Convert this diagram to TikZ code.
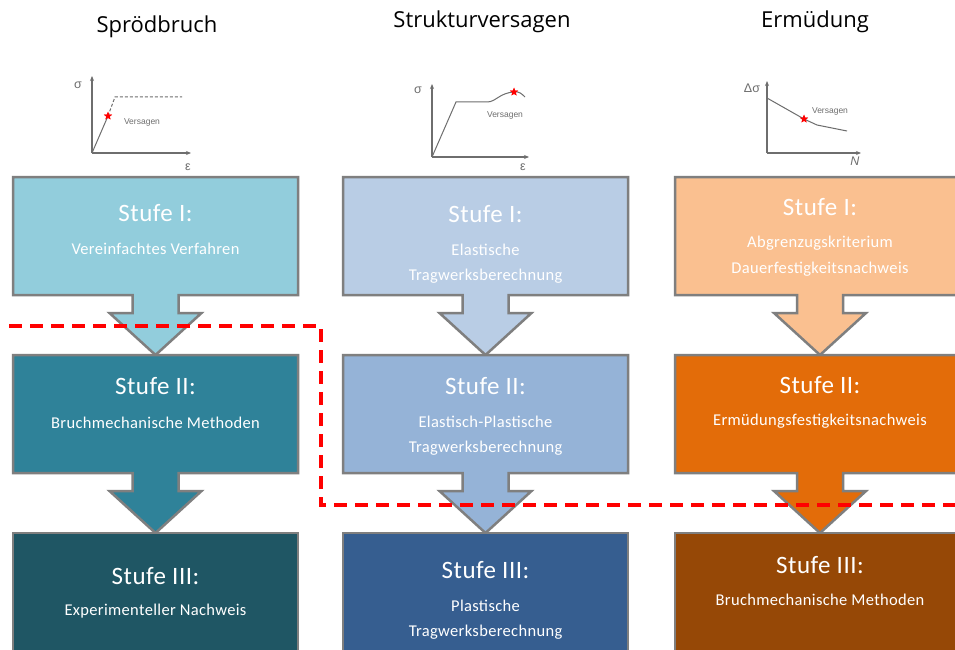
\documentclass[tikz,border=0pt]{standalone}
\usepackage{fontspec}
\setmainfont{Carlito}
\newfontfamily\titlefont{Open Sans}
\newfontfamily\graphfont{Liberation Sans}
\usetikzlibrary{calc,shapes.geometric,arrows.meta}
\definecolor{bordergrey}{HTML}{7F7F7F}
\definecolor{axisgrey}{HTML}{6E6E6E}
\definecolor{cAa}{HTML}{92CDDC}
\definecolor{cAb}{HTML}{2F8299}
\definecolor{cAc}{HTML}{1F5664}
\definecolor{cBa}{HTML}{B9CDE5}
\definecolor{cBb}{HTML}{95B3D7}
\definecolor{cBc}{HTML}{365E90}
\definecolor{cCa}{HTML}{FAC090}
\definecolor{cCb}{HTML}{E36C09}
\definecolor{cCc}{HTML}{964806}
\definecolor{dashred}{HTML}{FF0000}
\tikzset{
  holder/.style={draw=none,fill=none,inner sep=0,outer sep=0,minimum height=118pt,minimum width=285pt},
  holderwide/.style={holder,minimum width=290pt},
  stagebox/.style={draw=bordergrey,line width=2.5pt,line join=miter},
  coltitle/.style={font=\titlefont\fontsize{22}{25}\selectfont,text=black,inner sep=0},
  stufe/.style={font=\fontsize{25}{28}\selectfont\addfontfeatures{LetterSpace=2}\selectfont,text=white,inner sep=0},
  subtxt/.style={font=\fontsize{16.5}{19}\selectfont\addfontfeatures{LetterSpace=2}\selectfont,text=white,inner sep=0},
  axis/.style={draw=axisgrey,line width=1.1pt,-{Stealth[length=5pt,width=4pt]}},
  curve/.style={draw=axisgrey,line width=1pt},
  glab/.style={font=\graphfont\fontsize{12.5}{13}\selectfont,text=axisgrey,inner sep=0},
  vlab/.style={font=\graphfont\fontsize{8.5}{9}\selectfont,text=axisgrey,inner sep=0},
  failstar/.style={star,star points=5,star point ratio=2.3,fill=red,draw=none,inner sep=0,minimum size=8.5pt},
  redline/.style={draw=dashred,line width=3.5pt,dash pattern=on 13pt off 8pt}
}
\newcommand{\stagepath}[3]{% #1 upper box, #2 lower box, #3 fill
  \draw[stagebox,fill=#3] (#1.north west) -- (#1.north east) -- (#1.south east)
    -- ($(#1.south)+(23,0)$) -- ($(#1.south)+(23,18)$) -- ($(#1.south)+(46,18)$)
    -- (#2.north) -- ($(#1.south)+(-46,18)$) -- ($(#1.south)+(-23,18)$)
    -- ($(#1.south)+(-23,0)$) -- (#1.south west) -- cycle;}
\begin{document}
\begin{tikzpicture}[x=1pt,y=-1pt]
\useasboundingbox[fill=white] (0,0) rectangle (955,650);

% column titles
\node[coltitle,anchor=base] (h1) at (157,33) {Spr\"odbruch};
\node[coltitle,anchor=base] (h2) at (482,28) {Strukturversagen};
\node[coltitle,anchor=base] (h3) at (815,28) {Erm\"udung};

% box holders
\node[holder,anchor=north] (a1) at (155.5,177) {};
\node[holder,anchor=north] (a2) at (155.5,355) {};
\node[holder,anchor=north,minimum height=125pt] (a3) at (155.5,533) {};
\node[holder,anchor=north] (b1) at (485.5,177) {};
\node[holder,anchor=north] (b2) at (485.5,355) {};
\node[holder,anchor=north,minimum height=125pt] (b3) at (485.5,533) {};
\node[holderwide,anchor=north] (c1) at (820,177) {};
\node[holderwide,anchor=north] (c2) at (820,355) {};
\node[holderwide,anchor=north,minimum height=125pt] (c3) at (820,533) {};

% stage shapes
\stagepath{a1}{a2}{cAa}
\stagepath{a2}{a3}{cAb}
\draw[stagebox,fill=cAc] (a3.north west) rectangle (a3.south east);
\stagepath{b1}{b2}{cBa}
\stagepath{b2}{b3}{cBb}
\draw[stagebox,fill=cBc] (b3.north west) rectangle (b3.south east);
\stagepath{c1}{c2}{cCa}
\stagepath{c2}{c3}{cCb}
\draw[stagebox,fill=cCc] (c3.north west) rectangle (c3.south east);

% texts column 1
\node[stufe] (ta1) at (155.5,213) {Stufe I:};
\node[subtxt] (sa1) at (155.5,249) {Vereinfachtes Verfahren};
\node[stufe] (ta2) at (155.5,386) {Stufe II:};
\node[subtxt] (sa2) at (155.5,423) {Bruchmechanische Methoden};
\node[stufe] (ta3) at (155.5,576) {Stufe III:};
\node[subtxt] (sa3) at (155.5,611) {Experimenteller Nachweis};
% texts column 2
\node[stufe] (tb1) at (485.5,214) {Stufe I:};
\node[subtxt] (sb1a) at (485.5,250) {Elastische};
\node[subtxt] (sb1b) at (485.5,276) {Tragwerksberechnung};
\node[stufe] (tb2) at (485.5,386) {Stufe II:};
\node[subtxt] (sb2a) at (485.5,422) {Elastisch-Plastische};
\node[subtxt] (sb2b) at (485.5,448) {Tragwerksberechnung};
\node[stufe] (tb3) at (485.5,570) {Stufe III:};
\node[subtxt] (sb3a) at (485.5,606) {Plastische};
\node[subtxt] (sb3b) at (485.5,632) {Tragwerksberechnung};
% texts column 3
\node[stufe] (tc1) at (820,207) {Stufe I:};
\node[subtxt] (sc1a) at (820,243) {Abgrenzugskriterium};
\node[subtxt] (sc1b) at (820,269) {Dauerfestigkeitsnachweis};
\node[stufe] (tc2) at (820,385) {Stufe II:};
\node[subtxt] (sc2) at (820,421) {Erm\"udungsfestigkeitsnachweis};
\node[stufe] (tc3) at (820,565) {Stufe III:};
\node[subtxt] (sc3) at (820,600) {Bruchmechanische Methoden};

% red dashed boundary
\coordinate (r1) at (9,326);
\coordinate (r2) at (321,326);
\coordinate (r3) at (321,505);
\coordinate (r4) at (962,505);
\draw[redline] (r1) -- (r2) -- (r3) -- (r4);

% graph 1
\coordinate (o1) at (92,153);
\coordinate (y1) at (92,76);
\coordinate (x1) at (191,153);
\draw[axis] (o1) -- (y1);
\draw[axis] (o1) -- (x1);
\node[failstar] (s1) at (108,116) {};
\coordinate (k1) at (115,97);
\coordinate (e1) at (182,97);
\draw[curve] (o1) -- (s1.center);
\draw[curve,dash pattern=on 3pt off 2pt] (s1.center) -- (k1) -- (e1);
\node[failstar] at (108,116) {};
\node[glab] (sig1) at (78,85) {σ};
\node[glab] (eps1) at (188,167) {ε};
\node[vlab] (v1) at (142,122) {Versagen};

% graph 2
\coordinate (o2) at (432,157);
\coordinate (y2) at (432,84);
\coordinate (x2) at (529,157);
\draw[axis] (o2) -- (y2);
\draw[axis] (o2) -- (x2);
\coordinate (p2a) at (456,102);
\coordinate (p2b) at (487,102);
\coordinate (p2e) at (525,97);
\node[failstar] (s2) at (514,92) {};
\draw[curve] (o2) -- (p2a) -- (p2b) .. controls (496,102) and (499,93) .. (s2.center) .. controls (519,91) and (522,94) .. (p2e);
\node[failstar] at (514,92) {};
\node[glab] (sig2) at (418,90) {σ};
\node[glab] (eps2) at (523,167) {ε};
\node[vlab] (v2) at (505,115) {Versagen};

% graph 3
\coordinate (o3) at (767,153);
\coordinate (y3) at (767,81);
\coordinate (x3) at (861,153);
\draw[axis] (o3) -- (y3);
\draw[axis] (o3) -- (x3);
\coordinate (p3a) at (767,98);
\coordinate (p3b) at (817,125);
\coordinate (p3c) at (847,131);
\node[failstar] (s3) at (804,119) {};
\draw[curve] (p3a) -- (s3.center) -- (p3b) -- (p3c);
\node[failstar] at (804,119) {};
\node[glab] (sig3) at (752,88) {Δσ};
\node[glab] (n3) at (855,161) {\itshape N};
\node[vlab] (v3) at (830,111) {Versagen};
\end{tikzpicture}
\end{document}
